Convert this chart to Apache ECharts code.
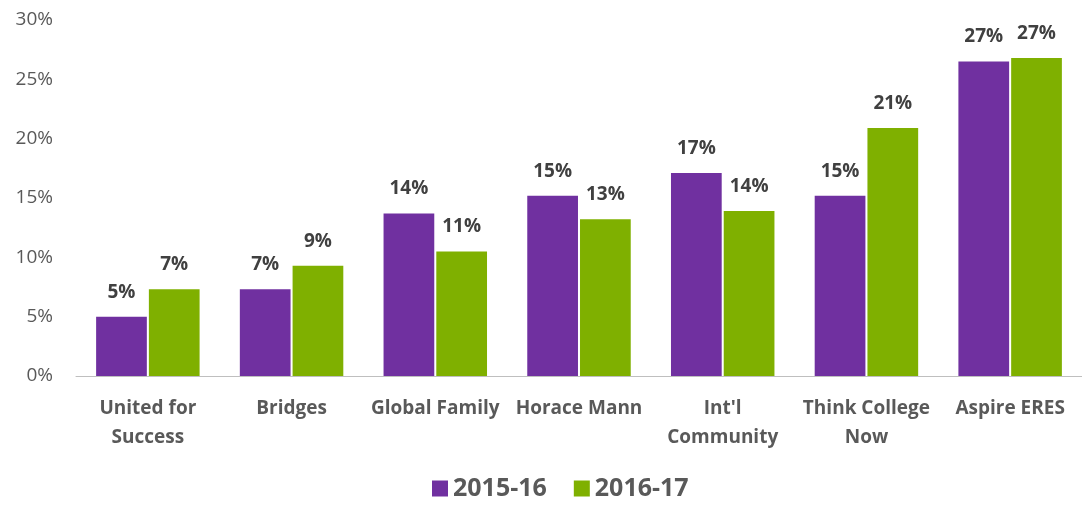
<!DOCTYPE html>
<html>
<head>
<meta charset="utf-8">
<script src="https://cdn.jsdelivr.net/npm/echarts@6/dist/echarts.min.js"></script>
<style>
    html, body { margin: 0; padding: 0; background: #fff; }
    #main { width: 1082px; height: 506px; }
</style>
</head>
<body>
<div id="main"></div>
<script>
    // data
    var schools = ['United for\nSuccess', 'Bridges', 'Global Family', 'Horace Mann', "Int'l\nCommunity", 'Think College\nNow', 'Aspire ERES'];
    var y2015 = [5.0, 7.3, 13.7, 15.2, 17.1, 15.2, 26.5];
    var y2016 = [7.3, 9.3, 10.5, 13.2, 13.9, 20.9, 26.8];
    var yTicks = [0, 5, 10, 15, 20, 25, 30];

    var chart = echarts.init(document.getElementById('main'));

    var labelStyle = {
        show: true,
        position: 'top',
        distance: 15,
        color: '#404040',
        fontFamily: 'Open Sans',
        fontWeight: 'bold',
        fontSize: 19,
        formatter: function (p) { return Math.round(p.value) + '%'; }
    };

    var option = {
        animation: false,
        textStyle: { fontFamily: 'Open Sans' },
        grid: { left: 76, top: 20, width: 1009, height: 356 },
        legend: {
            data: ['2015-16', '2016-17'],
            bottom: 0,
            left: 427,
            itemWidth: 16,
            itemHeight: 16,
            itemGap: 27,
            icon: 'rect',
            textStyle: { color: '#595959', fontSize: 25, fontWeight: 'bold' }
        },
        xAxis: {
            type: 'category',
            data: schools,
            axisLine: { lineStyle: { color: '#bfbfbf' } },
            axisTick: { show: false },
            axisLabel: {
                color: '#595959',
                fontSize: 19,
                fontWeight: 'bold',
                margin: 18,
                lineHeight: 29,
                interval: 0
            }
        },
        yAxis: {
            type: 'value',
            min: yTicks[0],
            max: yTicks[yTicks.length - 1],
            interval: 5,
            splitLine: { show: false },
            axisLine: { show: false },
            axisTick: { show: false },
            axisLabel: {
                color: '#595959',
                fontSize: 19,
                margin: 23,
                formatter: '{value}%'
            }
        },
        series: [{
            name: '2015-16',
            type: 'bar',
            data: y2015,
            barGap: '4%',
            barCategoryGap: '28%',
            itemStyle: { color: '#7030a0' },
            label: labelStyle
        }, {
            name: '2016-17',
            type: 'bar',
            data: y2016,
            itemStyle: { color: '#7fb000' },
            label: labelStyle
        }]
    };
    chart.setOption(option);
</script>
</body>
</html>
